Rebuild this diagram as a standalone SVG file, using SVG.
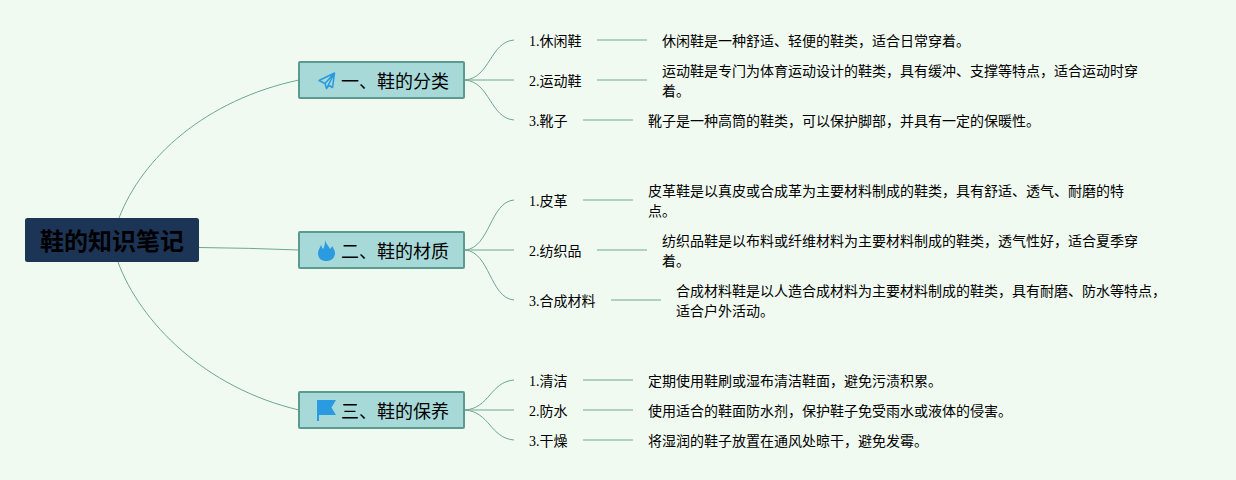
<svg xmlns="http://www.w3.org/2000/svg" width="1236" height="480" viewBox="0 0 1236 480">
<style>
text{font-family:"Noto Sans CJK SC","Liberation Serif",sans-serif;fill:#000}
.d{font-size:14px}
.l{font-size:14px}
.l tspan{font-family:"Liberation Serif","Noto Sans CJK SC",serif}
.m{font-size:18px}
.b{fill:#a8d9d9;stroke:#5b9a8e;stroke-width:2}
.c{fill:none;stroke:#6ea692;stroke-width:1}
.s{fill:none;stroke:#9cc4b0;stroke-width:1.300}
.i{fill:#2a9be0}
</style>
<rect width="1236" height="480" fill="#f0faf1"/>
<g id="connectors">
<path class="c" d="M119 218C142 158 205 100 299 80"/>
<path class="c" d="M199 247.500Q250 248 299 250"/>
<path class="c" d="M118 262C140 322 205 388 299 410"/>
<path class="c" d="M465 80C490 78 490 42 514 40"/>
<path class="c" d="M465 80H514"/>
<path class="c" d="M465 80C490 82 490 118 514 120"/>
<path class="c" d="M465 250C490 248 490 202 514 200"/>
<path class="c" d="M465 250H514"/>
<path class="c" d="M465 250C490 252 490 298 514 300"/>
<path class="c" d="M465 410C490 408 490 382 514 380"/>
<path class="c" d="M465 410H514"/>
<path class="c" d="M465 410C490 412 490 438 514 440"/>
<path class="s" d="M597 40H647M597 80H647M583 120H633M583 200H633M597 250H647M611 300H661M583 380H633M583 410H633M583 440H633"/>
</g>
<g id="root"><rect x="25" y="218" width="174" height="44" rx="2.500" fill="#1c3557"/><text x="112" y="250" font-size="24" font-weight="700" text-anchor="middle">鞋的知识笔记</text></g>
<g id="n1"><rect class="b" x="299" y="62" width="165" height="36" rx="1"/><path d="M334.500 73L319 80.500L325 83.500L326.500 88.500L329 85.500L332.500 87.500ZM325 83.500L334.500 73L326.500 88.500" fill="none" stroke="#2a9be0" stroke-width="1.600" stroke-linejoin="round"/><text class="m" x="341" y="88">一、鞋的分类</text></g>
<g id="n2"><rect class="b" x="299" y="232" width="165" height="36" rx="1"/><path class="i" d="M325 240C326 244 329 246 330 249C331 248 332 247 332 246C334 249 335 251 335 253C335 258 331 261 326.500 261C321 261 318 258 318 253C318 250 320 248 321 245C322 247 322 248 323 249C325 246 325 243 325 240Z"/><text class="m" x="341" y="258">二、鞋的材质</text></g>
<g id="n3"><rect class="b" x="299" y="392" width="165" height="36" rx="1"/><path class="i" d="M317 400H336L331.500 407.500L336 415H319V421H317Z"/><text class="m" x="341" y="418">三、鞋的保养</text></g>
<g id="a1"><text class="l" x="529" y="46"><tspan>1.</tspan>休闲鞋</text></g>
<g id="a2"><text class="l" x="529" y="86"><tspan>2.</tspan>运动鞋</text></g>
<g id="a3"><text class="l" x="529" y="126"><tspan>3.</tspan>靴子</text></g>
<g id="b1"><text class="l" x="529" y="206"><tspan>1.</tspan>皮革</text></g>
<g id="b2"><text class="l" x="529" y="256"><tspan>2.</tspan>纺织品</text></g>
<g id="b3"><text class="l" x="529" y="306"><tspan>3.</tspan>合成材料</text></g>
<g id="c1"><text class="l" x="529" y="386"><tspan>1.</tspan>清洁</text></g>
<g id="c2"><text class="l" x="529" y="416"><tspan>2.</tspan>防水</text></g>
<g id="c3"><text class="l" x="529" y="446"><tspan>3.</tspan>干燥</text></g>
<g id="d1"><text class="d" x="662" y="46">休闲鞋是一种舒适、轻便的鞋类，适合日常穿着。</text></g>
<g id="d2"><text class="d" x="662" y="76">运动鞋是专门为体育运动设计的鞋类，具有缓冲、支撑等特点，适合运动时穿</text><text class="d" x="662" y="96">着。</text></g>
<g id="d3"><text class="d" x="648" y="126">靴子是一种高筒的鞋类，可以保护脚部，并具有一定的保暖性。</text></g>
<g id="d4"><text class="d" x="648" y="196">皮革鞋是以真皮或合成革为主要材料制成的鞋类，具有舒适、透气、耐磨的特</text><text class="d" x="648" y="216">点。</text></g>
<g id="d5"><text class="d" x="662" y="246">纺织品鞋是以布料或纤维材料为主要材料制成的鞋类，透气性好，适合夏季穿</text><text class="d" x="662" y="266">着。</text></g>
<g id="d6"><text class="d" x="676" y="296">合成材料鞋是以人造合成材料为主要材料制成的鞋类，具有耐磨、防水等特点，</text><text class="d" x="676" y="316">适合户外活动。</text></g>
<g id="d7"><text class="d" x="648" y="386">定期使用鞋刷或湿布清洁鞋面，避免污渍积累。</text></g>
<g id="d8"><text class="d" x="648" y="416">使用适合的鞋面防水剂，保护鞋子免受雨水或液体的侵害。</text></g>
<g id="d9"><text class="d" x="648" y="446">将湿润的鞋子放置在通风处晾干，避免发霉。</text></g>
</svg>
